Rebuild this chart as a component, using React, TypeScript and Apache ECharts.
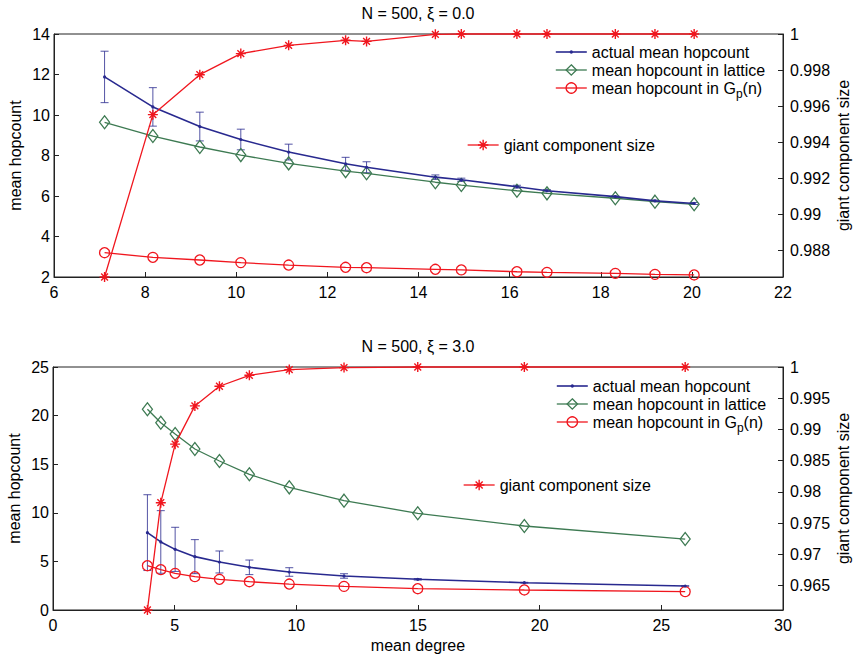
import React, { useEffect, useRef } from 'react';
import * as echarts from 'echarts';

// ---------- data: top panel (N = 500, xi = 0.0) ----------
const topDegree = [7.11, 8.17, 9.2, 10.1, 11.15, 12.4, 12.86, 14.37, 14.94, 16.16, 16.82, 18.32, 19.19, 20.05];
const topActual = [11.88, 10.4, 9.43, 8.79, 8.17, 7.59, 7.42, 6.93, 6.8, 6.46, 6.26, 5.97, 5.76, 5.63];
const topActualErr = [1.27, 0.95, 0.71, 0.51, 0.39, 0.32, 0.27, 0.11, 0.08, 0.07, 0.05, 0.04, 0.04, 0.05];
const topLattice = [9.64, 8.96, 8.42, 8.02, 7.61, 7.23, 7.12, 6.68, 6.54, 6.26, 6.13, 5.89, 5.72, 5.59];
const topGp = [3.2, 2.97, 2.84, 2.71, 2.59, 2.48, 2.46, 2.38, 2.35, 2.26, 2.23, 2.18, 2.13, 2.1];
const topGiant = [0.9865, 0.99552, 0.99774, 0.99891, 0.99937, 0.99965, 0.99959, 0.99998, 1, 1, 1, 1, 1, 1];

// ---------- data: bottom panel (N = 500, xi = 3.0) ----------
const botDegree = [3.88, 4.43, 5.02, 5.83, 6.84, 8.07, 9.71, 11.96, 14.99, 19.37, 25.98];
const botActual = [7.96, 7.0, 6.24, 5.49, 4.94, 4.39, 3.91, 3.5, 3.16, 2.81, 2.47];
const botActualErr = [3.9, 3.22, 2.27, 1.75, 1.13, 0.75, 0.44, 0.23, 0.08, 0.04, 0.03];
const botLattice = [20.65, 19.27, 18.11, 16.56, 15.33, 13.96, 12.62, 11.25, 9.95, 8.64, 7.3];
const botGp = [4.56, 4.15, 3.77, 3.43, 3.16, 2.91, 2.67, 2.43, 2.19, 2.06, 1.89];
const botGiant = [0.9611, 0.97828, 0.98765, 0.99377, 0.99692, 0.99867, 0.99958, 0.9999, 1, 1, 1];

// ---------- labels ----------
const titles = ['N = 500, ξ = 0.0', 'N = 500, ξ = 3.0'];
const NAME_ACTUAL = 'actual mean hopcount';
const NAME_LATTICE = 'mean hopcount in lattice';
const NAME_GP = 'mean hopcount in Gp(n)';
const NAME_GIANT = 'giant component size';
const yLeftName = 'mean hopcount';
const yRightName = 'giant component size';
const xName = 'mean degree';

const FONT = '"Liberation Sans", Arial, Helvetica, sans-serif';
const BLUE = '#28298f';
const GREEN = '#3d7a52';
const RED = '#f0161e';
const AXIS = '#222';

const ASTERISK = 'path://M5 0L5 10M0 5L10 5M1.6 1.6L8.4 8.4M8.4 1.6L1.6 8.4';
const DOT = 'path://M0 0L0 0M10 10L10 10M6.6 5A1.6 1.6 0 1 1 3.4 5A1.6 1.6 0 1 1 6.6 5Z';

const styles = {
  actual: {
    symbol: DOT,
    symbolSize: 10,
    itemStyle: { color: BLUE, borderWidth: 0 },
    lineStyle: { color: BLUE, width: 1.6 },
  },
  lattice: {
    symbol: 'diamond',
    symbolSize: [10, 13],
    itemStyle: { color: 'rgba(0,0,0,0)', borderColor: GREEN, borderWidth: 1.3 },
    lineStyle: { color: GREEN, width: 1.3 },
  },
  gp: {
    symbol: 'circle',
    symbolSize: 10,
    itemStyle: { color: 'rgba(0,0,0,0)', borderColor: RED, borderWidth: 1.3 },
    lineStyle: { color: RED, width: 1.3 },
  },
  giant: {
    symbol: ASTERISK,
    symbolSize: 10,
    itemStyle: { color: RED, borderColor: RED, borderWidth: 1.4 },
    lineStyle: { color: RED, width: 1.3 },
  },
};

function pairs(xs: number[], ys: number[]) {
  return xs.map((x, i) => [x, ys[i]]);
}

function errorBarRender(params: any, api: any) {
  const x = api.value(0);
  const lo = api.value(1);
  const hi = api.value(2);
  const pHi = api.coord([x, hi]);
  const pLo = api.coord([x, lo]);
  const w = 4;
  const style = { stroke: BLUE, lineWidth: 1, opacity: 0.8 };
  return {
    type: 'group',
    children: [
      { type: 'line', shape: { x1: pHi[0], y1: pHi[1], x2: pLo[0], y2: pLo[1] }, style },
      { type: 'line', shape: { x1: pHi[0] - w, y1: pHi[1], x2: pHi[0] + w, y2: pHi[1] }, style },
      { type: 'line', shape: { x1: pLo[0] - w, y1: pLo[1], x2: pLo[0] + w, y2: pLo[1] }, style },
    ],
  };
}

const labelStyle = { color: '#000', fontSize: 16, fontFamily: FONT };

function valueAxis(extra: any) {
  return {
    type: 'value',
    axisLine: { show: true, onZero: false, lineStyle: { color: AXIS, width: 1 } },
    axisTick: { show: true, inside: true, length: 5, lineStyle: { color: AXIS, width: 1 } },
    splitLine: { show: false },
    nameTextStyle: { ...labelStyle },
    nameMoveOverlap: false,
    ...extra,
  };
}

function legendItem(name: string, s: any) {
  return { name, itemStyle: s.itemStyle, lineStyle: s.lineStyle };
}

function legendFormatter(name: string) {
  if (name === NAME_GP) return '{a|mean hopcount in G}{s|p}{a|(n)}';
  return name;
}

const legendCommon = {
  orient: 'vertical',
  itemWidth: 31,
  itemHeight: 13,
  itemGap: 2,
  padding: 0,
  selectedMode: false,
  formatter: legendFormatter,
  textStyle: {
    ...labelStyle,
    rich: {
      a: { ...labelStyle },
      s: { color: '#000', fontSize: 12, fontFamily: FONT, padding: [12, 0, 0, 0] },
    },
  },
};

function fmtRight(v: number) {
  return String(parseFloat(v.toFixed(4)));
}

function buildOption() {
  const grids = [
    { left: 54, top: 34, width: 729, height: 243 },
    { left: 53, top: 367, width: 730, height: 243 },
  ];
  return {
    animation: false,
    backgroundColor: '#fff',
    textStyle: { fontFamily: FONT },
    title: [
      { text: titles[0], left: 418, top: 5, textAlign: 'center', padding: 0, textStyle: { ...labelStyle, fontWeight: 'normal' } },
      { text: titles[1], left: 418, top: 338, textAlign: 'center', padding: 0, textStyle: { ...labelStyle, fontWeight: 'normal' } },
    ],
    grid: grids.map((g) => ({ ...g, show: true, borderColor: AXIS, borderWidth: 1, backgroundColor: 'transparent', containLabel: false, outerBoundsMode: 'none' })),
    legend: [
      { ...legendCommon, left: 555, top: 44, data: [legendItem(NAME_ACTUAL, styles.actual), legendItem(NAME_LATTICE, styles.lattice), legendItem(NAME_GP, styles.gp)] },
      { ...legendCommon, left: 467, top: 137, data: [legendItem(NAME_GIANT, styles.giant)] },
      { ...legendCommon, left: 556, top: 378, data: [legendItem(NAME_ACTUAL, styles.actual), legendItem(NAME_LATTICE, styles.lattice), legendItem(NAME_GP, styles.gp)] },
      { ...legendCommon, left: 463, top: 477, data: [legendItem(NAME_GIANT, styles.giant)] },
    ],
    xAxis: [
      valueAxis({ gridIndex: 0, min: 6, max: 22, interval: 2, axisLabel: { ...labelStyle, margin: 7 } }),
      valueAxis({
        gridIndex: 1, min: 0, max: 30, interval: 5, axisLabel: { ...labelStyle, margin: 7 },
        name: xName, nameLocation: 'middle', nameGap: 27,
      }),
    ],
    yAxis: [
      valueAxis({
        gridIndex: 0, min: 2, max: 14, interval: 2, position: 'left',
        axisLabel: { ...labelStyle, margin: 4 },
        name: yLeftName, nameLocation: 'middle', nameGap: 31,
      }),
      valueAxis({
        gridIndex: 0, min: 0.9865, max: 1, splitNumber: 7, position: 'right',
        axisLabel: { ...labelStyle, margin: 7, showMinLabel: false, formatter: fmtRight },
        name: yRightName, nameLocation: 'middle', nameGap: 52,
      }),
      valueAxis({
        gridIndex: 1, min: 0, max: 25, interval: 5, position: 'left',
        axisLabel: { ...labelStyle, margin: 4 },
        name: yLeftName, nameLocation: 'middle', nameGap: 31,
      }),
      valueAxis({
        gridIndex: 1, min: 0.9611, max: 1, splitNumber: 8, position: 'right',
        axisLabel: { ...labelStyle, margin: 7, showMinLabel: false, formatter: fmtRight },
        name: yRightName, nameLocation: 'middle', nameGap: 52,
      }),
    ],
    series: [
      // top panel
      {
        type: 'custom', name: 'error top', xAxisIndex: 0, yAxisIndex: 0, silent: true, z: 2,
        data: topDegree.map((x, i) => [x, topActual[i] - topActualErr[i], topActual[i] + topActualErr[i]]),
        encode: { x: 0, y: [1, 2] },
        renderItem: errorBarRender,
      },
      { type: 'line', name: NAME_LATTICE, xAxisIndex: 0, yAxisIndex: 0, data: pairs(topDegree, topLattice), ...styles.lattice, clip: false, z: 3, silent: true },
      { type: 'line', name: NAME_GP, xAxisIndex: 0, yAxisIndex: 0, data: pairs(topDegree, topGp), ...styles.gp, clip: false, z: 3, silent: true },
      { type: 'line', name: NAME_ACTUAL, xAxisIndex: 0, yAxisIndex: 0, data: pairs(topDegree, topActual), ...styles.actual, clip: false, z: 4, silent: true },
      { type: 'line', name: NAME_GIANT, xAxisIndex: 0, yAxisIndex: 1, data: pairs(topDegree, topGiant), ...styles.giant, clip: false, z: 5, silent: true },
      // bottom panel
      {
        type: 'custom', name: 'error bottom', xAxisIndex: 1, yAxisIndex: 2, silent: true, z: 2,
        data: botDegree.map((x, i) => [x, botActual[i] - botActualErr[i], botActual[i] + botActualErr[i]]),
        encode: { x: 0, y: [1, 2] },
        renderItem: errorBarRender,
      },
      { type: 'line', name: NAME_LATTICE, xAxisIndex: 1, yAxisIndex: 2, data: pairs(botDegree, botLattice), ...styles.lattice, clip: false, z: 3, silent: true },
      { type: 'line', name: NAME_GP, xAxisIndex: 1, yAxisIndex: 2, data: pairs(botDegree, botGp), ...styles.gp, clip: false, z: 3, silent: true },
      { type: 'line', name: NAME_ACTUAL, xAxisIndex: 1, yAxisIndex: 2, data: pairs(botDegree, botActual), ...styles.actual, clip: false, z: 4, silent: true },
      { type: 'line', name: NAME_GIANT, xAxisIndex: 1, yAxisIndex: 3, data: pairs(botDegree, botGiant), ...styles.giant, clip: false, z: 5, silent: true },
    ],
  };
}

export default function App() {
  const ref = useRef<HTMLDivElement>(null);
  useEffect(() => {
    if (!ref.current) return;
    const chart = echarts.init(ref.current, null, { renderer: 'svg' });
    chart.setOption(buildOption() as any);
    return () => chart.dispose();
  }, []);
  return (
    <div
      ref={ref}
      style={{ position: 'fixed', left: 0, top: 0, width: 855, height: 654, background: '#fff' }}
    />
  );
}
